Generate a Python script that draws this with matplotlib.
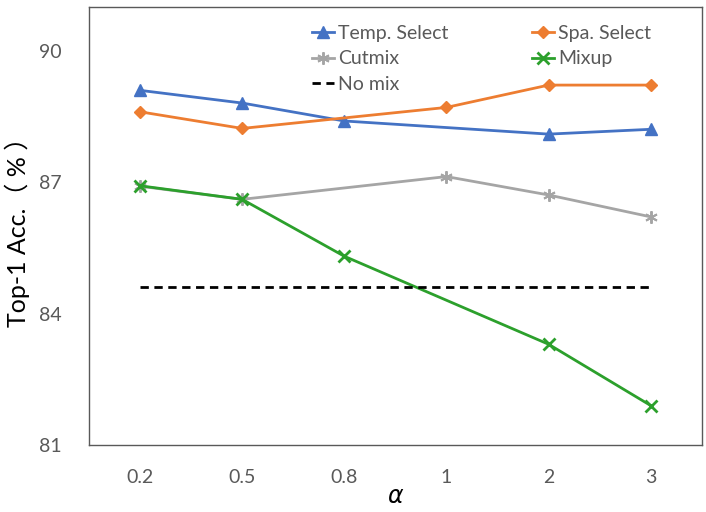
import numpy as np
import matplotlib
matplotlib.use("Agg")
import matplotlib.pyplot as plt

alphas = ["0.2", "0.5", "0.8", "1", "2", "3"]
temp_select = [89.10, 88.81, 88.40, np.nan, 88.10, 88.21]
spa_select = [88.61, 88.23, np.nan, 88.71, 89.22, 89.22]
cutmix = [86.91, 86.61, np.nan, 87.13, 86.71, 86.21]
mixup = [86.92, 86.61, 85.31, np.nan, 83.30, 81.90]
no_mix = 84.60

plt.rcParams['font.family'] = ['Lato', 'Noto Sans CJK SC', 'DejaVu Sans']

fig = plt.figure(figsize=(7.06, 5.12), dpi=100)
ax = fig.add_axes([0.126, 0.131, 0.868, 0.855])

x = np.arange(len(alphas))


def draw(vals, **kw):
    vals = np.array(vals, dtype=float)
    ok = ~np.isnan(vals)
    return ax.plot(x[ok], vals[ok], lw=2, **kw)[0]


h_temp = draw(temp_select, color='#4472C4', marker='^', ms=8, label='Temp. Select')
h_spa = draw(spa_select, color='#ED7D31', marker='D', ms=6, label='Spa. Select')
h_cut = draw(cutmix, color='#A5A5A5', marker=(6, 2, 0), ms=9, mew=1.4, label='Cutmix')
h_mix = draw(mixup, color='#2CA02C', marker='x', ms=8, mew=2, label='Mixup')
h_no = ax.plot([x[0], x[-1]], [no_mix, no_mix], color='black', lw=2,
               ls=(0, (3, 2)), label='No mix')[0]

ax.set_xlim(-0.5, len(alphas) - 0.5)
ax.set_ylim(81, 91)
ax.set_yticks([81, 84, 87, 90])
ax.set_xticks(x)
ax.set_xticklabels(alphas)
ax.tick_params(length=0, labelsize=14, labelcolor='#595959')
ax.tick_params(axis='x', pad=17)
ax.tick_params(axis='y', pad=20)

for s in ax.spines.values():
    s.set_color('#595959')
    s.set_linewidth(1)

ax.set_ylabel('Top-1 Acc.（ % ）', fontsize=18, labelpad=6)
ax.set_xlabel(r'$\alpha$', fontsize=17, labelpad=0)

ax.legend([h_temp, h_cut, h_no, h_spa, h_mix],
          ['Temp. Select', 'Cutmix', 'No mix', 'Spa. Select', 'Mixup'],
          ncol=2, frameon=False, loc='upper left', bbox_to_anchor=(0.335, 1.0),
          fontsize=14, labelcolor='#595959', handlelength=1.15,
          handletextpad=0.2, columnspacing=4.3, labelspacing=0.45)

fig.savefig('out.png')
